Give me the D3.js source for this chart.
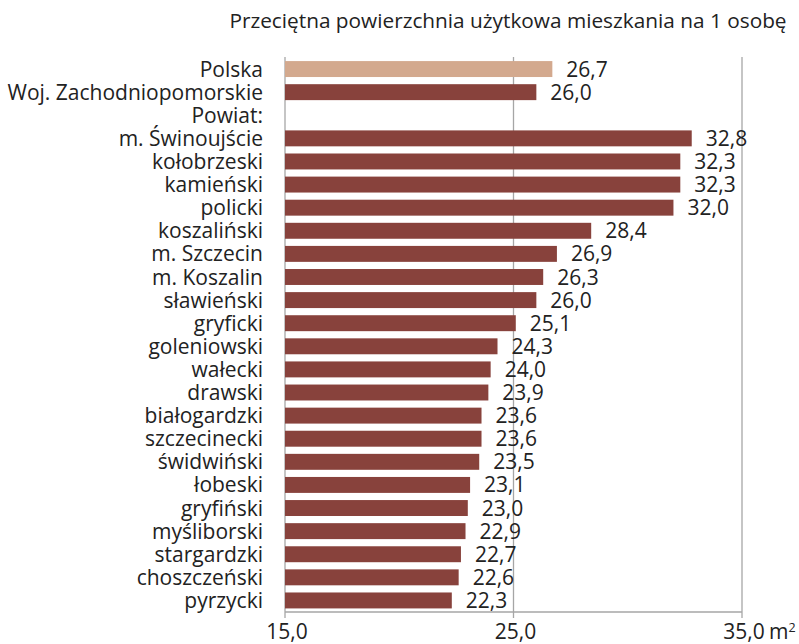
<!DOCTYPE html>
<html lang="pl">
<head>
    <meta charset="UTF-8">
    <title>Przeciętna powierzchnia użytkowa mieszkania na 1 osobę</title>
    <script src="https://d3js.org/d3.v7.min.js"></script>
    <style>
        body { margin: 0; background: #fff; }
        svg text { font-family: "Open Sans", sans-serif; fill: #222; }
    </style>
</head>
<body>
    <div id="chart"></div>
    <script>
        const width = 799;
        const height = 644;

        // data
        const categories = ["Polska", "Woj. Zachodniopomorskie", "Powiat:", "m. Świnoujście", "kołobrzeski",
            "kamieński", "policki", "koszaliński", "m. Szczecin", "m. Koszalin", "sławieński", "gryficki",
            "goleniowski", "wałecki", "drawski", "białogardzki", "szczecinecki", "świdwiński", "łobeski",
            "gryfiński", "myśliborski", "stargardzki", "choszczeński", "pyrzycki"];
        const values = [26.7, 26.0, null, 32.8, 32.3, 32.3, 32.0, 28.4, 26.9, 26.3, 26.0, 25.1,
            24.3, 24.0, 23.9, 23.6, 23.6, 23.5, 23.1, 23.0, 22.9, 22.7, 22.6, 22.3];
        const xTicks = [15, 25, 35];
        const title = "Przeciętna powierzchnia użytkowa mieszkania na 1 osobę";
        const unit = "m";

        const rows = categories.map((c, i) => ({ name: c, value: values[i] }));
        const fmt = v => d3.format(".1f")(v).replace(".", ",");

        const x = d3.scaleLinear().domain([15, 35]).range([285, 742]);
        const y = d3.scaleBand().domain(categories).range([57.5, 612]).paddingInner(0.31).paddingOuter(0.155);

        const svg = d3.select("#chart").append("svg")
            .attr("width", width)
            .attr("height", height);

        svg.append("text")
            .attr("x", 508)
            .attr("y", 28)
            .attr("text-anchor", "middle")
            .style("font-size", "20.8px")
            .text(title);

        const axisY = 612;

        // gridlines
        svg.append("g")
            .selectAll("line")
            .data(xTicks)
            .enter()
            .append("line")
            .attr("x1", d => x(d)).attr("x2", d => x(d))
            .attr("y1", 57).attr("y2", axisY + 6)
            .attr("stroke", "#a6a6a6")
            .attr("stroke-width", 1.3);

        svg.append("line")
            .attr("x1", x(15)).attr("x2", x(35))
            .attr("y1", axisY).attr("y2", axisY)
            .attr("stroke", "#a6a6a6")
            .attr("stroke-width", 1.3);

        // bars
        svg.append("g")
            .selectAll("rect")
            .data(rows.filter(d => d.value != null))
            .enter()
            .append("rect")
            .attr("x", x(15))
            .attr("y", d => y(d.name))
            .attr("width", d => x(d.value) - x(15))
            .attr("height", y.bandwidth())
            .attr("fill", d => d.name === "Polska" ? "#d3a98e" : "#88423c");

        // category labels
        svg.append("g")
            .selectAll("text")
            .data(rows)
            .enter()
            .append("text")
            .attr("x", 263)
            .attr("y", d => y(d.name) + y.bandwidth() / 2)
            .attr("dy", "0.36em")
            .attr("text-anchor", "end")
            .style("font-size", "21px")
            .text(d => d.name);

        // value labels
        svg.append("g")
            .selectAll("text")
            .data(rows.filter(d => d.value != null))
            .enter()
            .append("text")
            .attr("x", d => x(d.value) + 14)
            .attr("y", d => y(d.name) + y.bandwidth() / 2)
            .attr("dy", "0.36em")
            .style("font-size", "21px")
            .text(d => fmt(d.value));

        // tick labels
        svg.append("g")
            .selectAll("text")
            .data(xTicks)
            .enter()
            .append("text")
            .attr("x", d => x(d) + 2)
            .attr("y", 639)
            .attr("text-anchor", "middle")
            .style("font-size", "21px")
            .text(d => fmt(d));

        svg.append("text")
            .attr("x", x(35) + 27)
            .attr("y", 639)
            .style("font-size", "21px")
            .text(unit)
            .append("tspan")
            .attr("dy", "-0.55em")
            .style("font-size", "12.5px")
            .text("2");
    </script>
</body>
</html>
